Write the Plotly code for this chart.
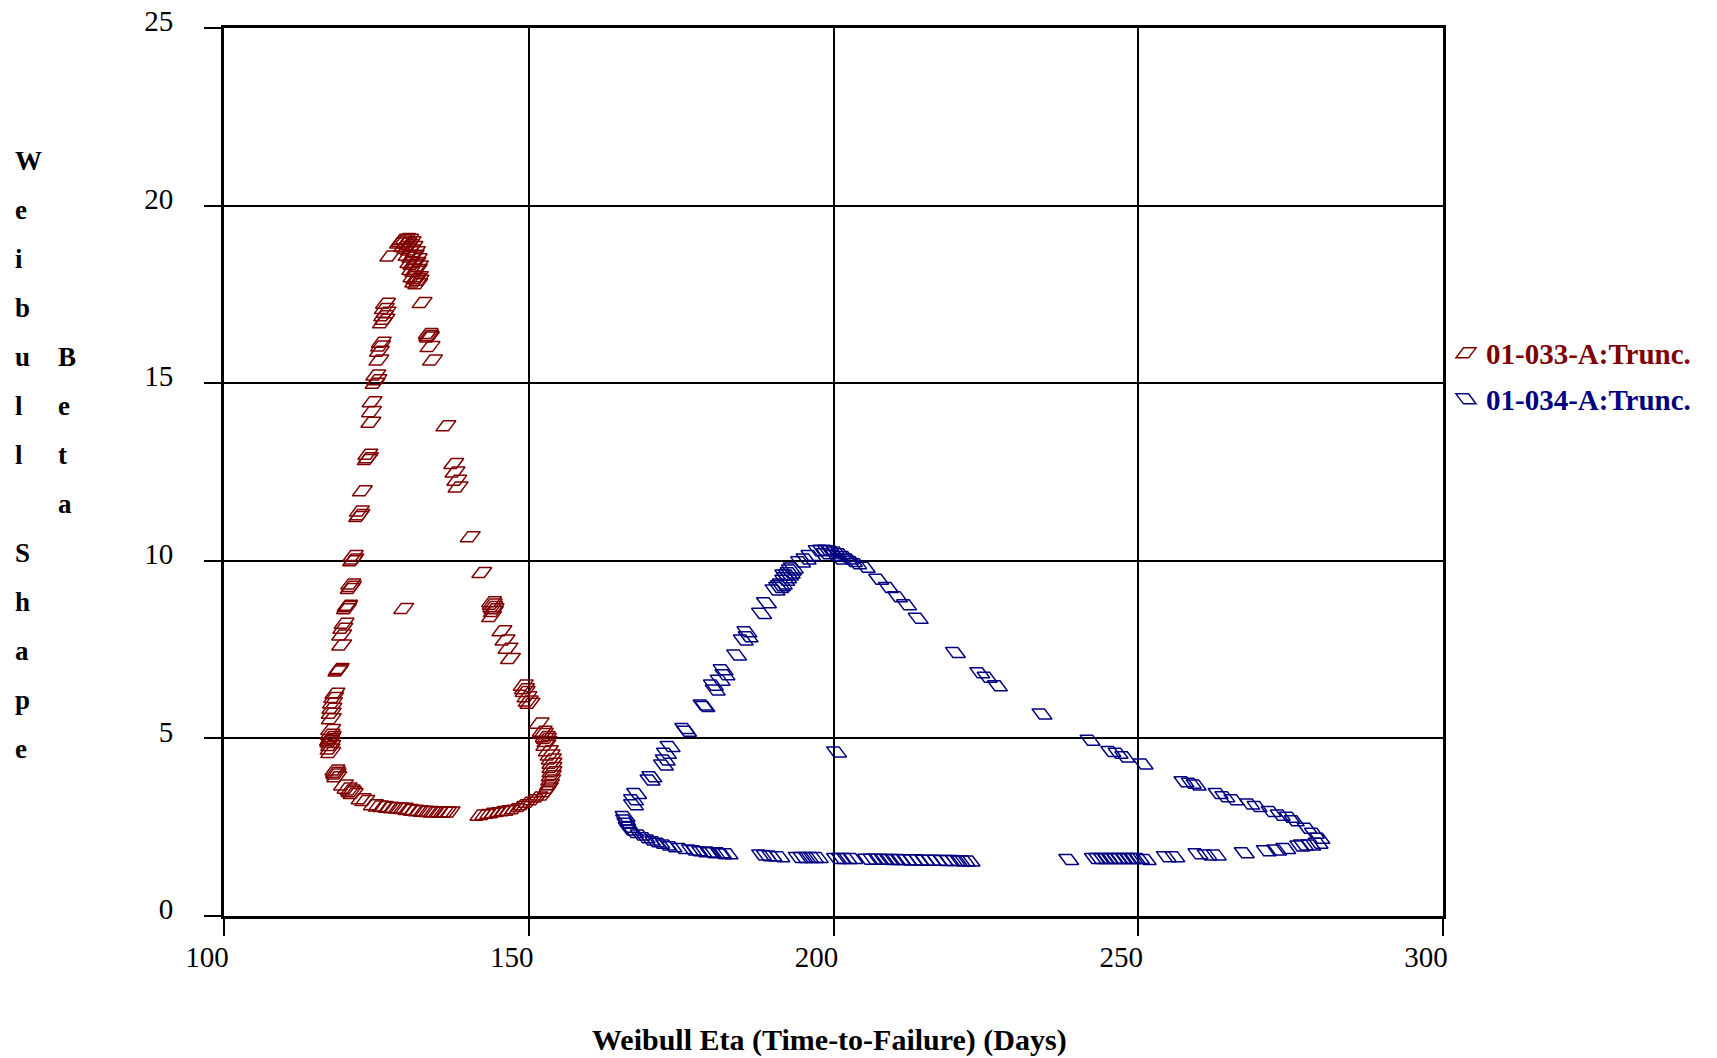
import plotly.graph_objects as go

# ---------------- data (Weibull Eta [days], Weibull Beta) ----------------
red_name = "01-033-A:Trunc."
blue_name = "01-034-A:Trunc."

red_points = [
    (128.8, 18.95), (129.3, 19.05), (129.8, 19.07), (130.3, 19.05), (130.7, 18.98),
    (129.5, 18.85), (130.0, 18.8), (130.6, 18.75), (131.0, 18.85), (130.2, 18.6),
    (130.8, 18.55), (131.2, 18.6), (130.5, 18.4), (131.0, 18.35), (131.5, 18.4),
    (130.8, 18.2), (131.3, 18.15), (131.7, 18.2), (131.0, 18.0), (131.5, 17.95),
    (131.9, 18.0), (131.3, 17.85), (131.8, 17.8), (132.0, 17.9),
    (129.1, 19.0), (130.0, 18.95), (130.4, 18.9), (131.4, 18.7), (131.7, 18.5), (131.9, 18.3),
    (127.2, 18.58),
    (126.5, 17.25), (126.3, 17.1), (126.6, 17.0), (126.2, 16.9), (126.4, 16.8), (126.0, 16.7),
    (125.8, 16.15), (125.7, 16.05), (125.5, 15.9), (125.4, 15.65),
    (124.9, 15.23), (125.1, 15.1), (124.8, 15.0),
    (124.3, 14.48), (124.2, 14.2), (124.1, 13.9),
    (123.6, 13.0), (123.7, 12.9), (123.5, 12.85), (122.7, 11.97),
    (122.2, 11.4), (122.3, 11.3), (122.1, 11.25),
    (121.2, 10.15), (121.3, 10.05), (121.1, 10.0),
    (120.8, 9.35), (120.9, 9.28), (120.7, 9.22),
    (120.2, 8.71), (120.3, 8.75), (120.1, 8.65),
    (119.7, 8.24), (119.5, 8.1), (119.3, 7.91), (119.3, 7.63),
    (118.8, 6.93), (118.9, 6.97), (118.7, 6.9),
    (118.2, 6.27), (118.0, 6.15), (117.8, 6.0), (117.7, 5.85), (117.6, 5.71), (117.6, 5.55),
    (117.5, 5.25), (117.4, 5.12), (117.5, 5.0), (117.4, 4.9), (117.5, 4.8), (117.4, 4.7),
    (117.5, 4.6), (117.6, 5.05), (117.3, 4.95),
    (118.2, 4.11), (118.3, 4.05), (118.4, 4.0), (118.5, 3.92),
    (119.6, 3.69), (120.2, 3.6), (120.7, 3.55), (120.9, 3.5), (121.2, 3.45),
    (122.5, 3.3), (123.1, 3.25), (124.5, 3.13), (125.3, 3.1), (126.1, 3.08), (127.0, 3.06),
    (127.8, 3.05), (128.6, 3.04), (129.4, 3.03), (130.2, 3.0), (131.1, 2.98), (131.9, 2.96),
    (132.7, 2.95), (133.5, 2.94), (134.3, 2.93), (135.2, 2.93), (136.0, 2.93), (136.5, 2.92),
    (137.1, 2.93),
    (142.0, 2.84), (142.8, 2.86), (143.6, 2.89), (144.4, 2.91), (145.3, 2.94), (146.1, 2.96),
    (146.9, 2.98), (147.7, 3.02), (148.6, 3.08), (149.1, 3.13), (149.9, 3.2), (150.7, 3.27),
    (151.5, 3.35), (152.4, 3.41), (152.8, 3.5), (153.2, 3.6), (153.4, 3.7), (153.6, 3.83),
    (153.7, 3.95), (153.8, 4.06), (153.8, 4.18), (153.8, 4.3), (153.7, 4.42), (153.5, 4.53),
    (153.2, 4.65), (152.8, 4.81), (153.0, 4.91), (152.9, 5.0), (152.7, 5.05), (152.4, 5.14),
    (152.2, 5.2), (151.7, 5.43),
    (150.2, 5.99), (149.9, 6.05), (149.7, 6.17), (149.4, 6.32), (149.3, 6.4), (149.1, 6.5),
    (147.0, 7.25), (146.6, 7.54), (146.1, 7.77), (145.6, 8.03),
    (143.9, 8.43), (144.2, 8.57), (144.3, 8.65), (144.1, 8.71), (144.0, 8.78), (143.9, 8.85),
    (142.3, 9.67), (140.4, 10.68),
    (138.4, 12.08), (138.2, 12.27), (137.9, 12.5), (137.7, 12.74),
    (136.4, 13.8),
    (134.2, 15.65), (133.8, 16.03), (133.6, 16.34), (133.7, 16.3), (133.5, 16.4),
    (132.5, 17.27),
    (129.5, 8.66),
]

blue_points = [
    (165.8, 2.8), (165.9, 2.7), (166.1, 2.61), (166.3, 2.5), (166.6, 2.42), (167.2, 2.35),
    (168.3, 2.28), (169.1, 2.2), (169.9, 2.14), (170.7, 2.09), (171.5, 2.05), (172.5, 2.0),
    (173.5, 1.95), (175.1, 1.9), (176.7, 1.86), (177.5, 1.84), (178.4, 1.81), (179.7, 1.8),
    (180.0, 1.78), (181.4, 1.78), (181.7, 1.75), (182.7, 1.75),
    (188.2, 1.72), (189.0, 1.7), (189.9, 1.69), (191.2, 1.67),
    (194.2, 1.65), (195.0, 1.65), (195.9, 1.65), (196.7, 1.65), (197.5, 1.65),
    (200.5, 1.62), (201.3, 1.62), (202.2, 1.62), (203.2, 1.62),
    (205.6, 1.6), (206.5, 1.6), (207.4, 1.6), (208.3, 1.6), (209.2, 1.59), (210.1, 1.59),
    (211.0, 1.59), (212.0, 1.58), (213.0, 1.58), (214.0, 1.58), (215.0, 1.57), (216.0, 1.57),
    (217.0, 1.57), (218.0, 1.56), (219.0, 1.56), (220.0, 1.56), (220.8, 1.55), (221.6, 1.55),
    (222.4, 1.55),
    (238.6, 1.59),
    (242.8, 1.62), (243.5, 1.62), (244.3, 1.62), (245.0, 1.62), (245.8, 1.62), (246.5, 1.62),
    (247.2, 1.62), (248.0, 1.62), (248.7, 1.62), (249.5, 1.62), (250.2, 1.62), (251.3, 1.59),
    (254.6, 1.67), (256.0, 1.67),
    (259.8, 1.75), (261.3, 1.72), (262.8, 1.72),
    (267.4, 1.78),
    (271.0, 1.84), (272.7, 1.86), (274.2, 1.9), (276.5, 1.97), (277.1, 2.0), (278.3, 2.0),
    (279.5, 2.05), (279.8, 2.19), (278.9, 2.33), (277.7, 2.47), (275.6, 2.68), (274.8, 2.78),
    (273.3, 2.84), (271.8, 2.94), (269.5, 3.08), (268.3, 3.15), (265.7, 3.27), (264.2, 3.36),
    (263.1, 3.45), (259.5, 3.69), (258.7, 3.74), (257.5, 3.78),
    (250.8, 4.28), (247.8, 4.48), (246.7, 4.58), (245.5, 4.63), (242.1, 4.95),
    (234.2, 5.69),
    (226.9, 6.48), (225.2, 6.72), (224.0, 6.85), (220.0, 7.42),
    (213.9, 8.38), (212.0, 8.76), (210.5, 8.99), (209.0, 9.25), (207.4, 9.48), (205.2, 9.82),
    (197.5, 10.28), (198.2, 10.3), (199.0, 10.3), (199.8, 10.28), (200.5, 10.25), (201.2, 10.2),
    (201.9, 10.12), (202.5, 10.05), (203.1, 9.98), (203.8, 9.92), (198.8, 10.2), (200.2, 10.15),
    (201.0, 10.05),
    (194.6, 9.97), (195.5, 10.05), (196.3, 10.15), (193.1, 9.74), (192.6, 9.6), (192.0, 9.45),
    (191.3, 9.3), (190.4, 9.18), (191.6, 9.35), (192.3, 9.52), (192.9, 9.66), (191.0, 9.25),
    (193.4, 9.8), (192.0, 9.6),
    (189.0, 8.82), (188.2, 8.52),
    (186.0, 7.86), (185.8, 8.0), (185.2, 7.77), (184.1, 7.35),
    (182.2, 6.79), (181.9, 6.93), (181.4, 6.64), (180.6, 6.36), (180.3, 6.5),
    (178.6, 5.94), (178.9, 5.9), (175.6, 5.28), (175.9, 5.2),
    (173.2, 4.77), (172.6, 4.58), (172.4, 4.39), (172.1, 4.25),
    (170.2, 3.92), (169.9, 3.83), (167.7, 3.45), (167.2, 3.27), (167.2, 3.13),
    (200.5, 4.62),
]

x_ticks = [100, 150, 200, 250, 300]
y_ticks = [0, 5, 10, 15, 20, 25]
x_title = "Weibull Eta (Time-to-Failure) (Days)"
y_title_words = ["Weibull", "Beta", "Shape"]

RED = "#800000"
BLUE = "#000080"
FONT = "Liberation Serif"

# ---------------- layout geometry (pixels) ----------------
W, H = 1717, 1058
L, R, T, B = 224, 1443, 28, 916
PW, PH = R - L, B - T


def px_x(p):
    return (p - L) / PW


def px_y(p):
    return (B - p) / PH


fig = go.Figure()

fig.add_trace(go.Scatter(
    x=[p[0] for p in red_points], y=[p[1] for p in red_points],
    mode="markers", name=red_name, legend="legend",
    marker=dict(symbol="diamond-wide-open", size=16, angle=-26.6,
                color=RED, line=dict(width=1.5, color=RED)),
))
fig.add_trace(go.Scatter(
    x=[p[0] for p in blue_points], y=[p[1] for p in blue_points],
    mode="markers", name=blue_name, legend="legend2",
    marker=dict(symbol="diamond-wide-open", size=16, angle=26.6,
                color=BLUE, line=dict(width=1.5, color=BLUE)),
))

axis_common = dict(
    showgrid=True, gridcolor="black", gridwidth=1.5,
    showline=True, linecolor="black", linewidth=3, mirror=True,
    ticks="outside", ticklen=17, tickwidth=1.5, tickcolor="black",
    tickfont=dict(family=FONT, size=29, color="black"),
    zeroline=False, fixedrange=True, automargin=False,
)

fig.update_layout(
    width=W, height=H,
    margin=dict(l=L, r=W - R, t=T, b=H - B, pad=0, autoexpand=False),
    paper_bgcolor="white", plot_bgcolor="white",
    xaxis=dict(range=[100, 300], tickvals=x_ticks, ticklabelshift=-17,
               ticklabelstandoff=-4, **axis_common),
    yaxis=dict(range=[0, 25], tickvals=y_ticks, ticklabelshift=-7,
               ticklabelstandoff=25, **axis_common),
    legend=dict(x=px_x(1446), y=px_y(353), xanchor="left", yanchor="middle",
                bgcolor="rgba(0,0,0,0)", borderwidth=0,
                font=dict(family=FONT, size=29, color=RED, weight="bold")),
    legend2=dict(x=px_x(1446), y=px_y(399), xanchor="left", yanchor="middle",
                 bgcolor="rgba(0,0,0,0)", borderwidth=0,
                 font=dict(family=FONT, size=29, color=BLUE, weight="bold")),
    showlegend=True,
)

annotations = [dict(
    text=x_title, xref="paper", yref="paper",
    x=px_x(829), y=px_y(1040), xanchor="center", yanchor="middle",
    showarrow=False, font=dict(family=FONT, size=30, color="black", weight="bold"),
)]

# stacked vertical y-axis title: column 1 = "Weibull" + gap + "Shape", column 2 = "Beta"
size_y = 27
step = 49
base0 = 170
col1 = list(y_title_words[0]) + [""] + list(y_title_words[2])
col2 = list(y_title_words[1])
for k, ch in enumerate(col1):
    if not ch:
        continue
    centre = base0 + step * k - 0.3375 * size_y
    annotations.append(dict(text=ch, xref="paper", yref="paper",
                            x=px_x(13), y=px_y(centre), xanchor="left", yanchor="middle",
                            showarrow=False,
                            font=dict(family=FONT, size=size_y, color="black", weight="bold")))
for k, ch in enumerate(col2):
    centre = base0 + step * (k + 4) - 0.3375 * size_y
    annotations.append(dict(text=ch, xref="paper", yref="paper",
                            x=px_x(56), y=px_y(centre), xanchor="left", yanchor="middle",
                            showarrow=False,
                            font=dict(family=FONT, size=size_y, color="black", weight="bold")))

fig.update_layout(annotations=annotations)

fig.write_html("out.html")
